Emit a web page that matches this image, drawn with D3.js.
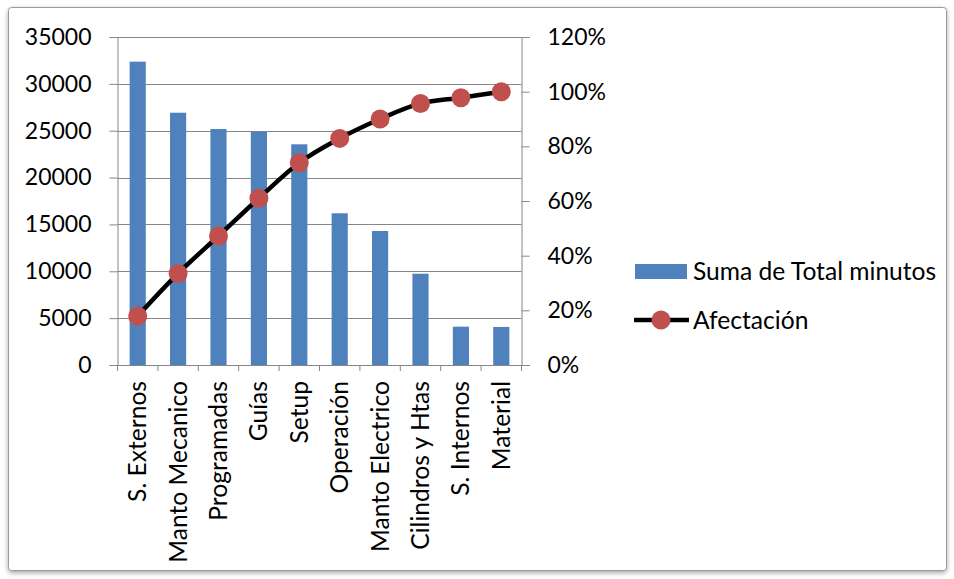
<!DOCTYPE html>
<html>
<head>
<meta charset="utf-8">
<script src="https://cdn.jsdelivr.net/npm/d3@7"></script>
<style>
  html, body { margin: 0; padding: 0; background: #fff; }
  svg { display: block; }
  text { font-family: Lato, "Open Sans", sans-serif; fill: #000; }
</style>
</head>
<body>
<svg id="chart" width="954" height="579"></svg>
<script>
// Pareto data: minutes per cause and cumulative share
const categories = ["S. Externos", "Manto Mecanico", "Programadas", "Guías", "Setup",
                    "Operación", "Manto Electrico", "Cilindros y Htas", "S. Internos", "Material"];
const minutes = [32370, 26920, 25180, 24900, 23550, 16190, 14300, 9740, 4090, 4060];
const afectacion = [0.179, 0.335, 0.472, 0.610, 0.740, 0.829, 0.900, 0.957, 0.978, 1.0];
const leftTicks = [0, 5000, 10000, 15000, 20000, 25000, 30000, 35000];
const rightTicks = [0, 0.2, 0.4, 0.6, 0.8, 1.0, 1.2];
const seriesNames = ["Suma de Total minutos", "Afectación"];

const svg = d3.select("#chart");
const plot = { left: 117.5, right: 521.5, top: 37, bottom: 365 };
const FS_NUM = 23;   // axis numbers
const FS_TXT = 24.6; // category and legend text
const gridColor = "#868686";

// Frame with soft shadow
const defs = svg.append("defs");
const f = defs.append("filter").attr("id", "shadow")
  .attr("x", "-5%").attr("y", "-5%").attr("width", "110%").attr("height", "110%");
f.append("feDropShadow").attr("dx", 0).attr("dy", 2).attr("stdDeviation", 2.5)
  .attr("flood-color", "#000").attr("flood-opacity", 0.35);
svg.append("rect")
  .attr("x", 8.5).attr("y", 7.5).attr("width", 938).attr("height", 563)
  .attr("rx", 3).attr("fill", "#fff").attr("stroke", "#9a9a9a").attr("stroke-width", 1)
  .attr("filter", "url(#shadow)");

// Scales
const x = d3.scaleBand().domain(categories)
  .range([plot.left, plot.right]).paddingInner(0.6).paddingOuter(0.3);
const yL = d3.scaleLinear().domain([0, 35000]).range([plot.bottom, plot.top]);
const yR = d3.scaleLinear().domain([0, 1.2]).range([plot.bottom, plot.top]);

// Horizontal gridlines
svg.append("g").selectAll("line").data(leftTicks.slice(1)).join("line")
  .attr("x1", plot.left).attr("x2", plot.right)
  .attr("y1", d => Math.round(yL(d)) + 0.5).attr("y2", d => Math.round(yL(d)) + 0.5)
  .attr("stroke", gridColor).attr("stroke-width", 1);

// Left axis
const gL = svg.append("g").attr("transform", `translate(${plot.left},0)`)
  .call(d3.axisLeft(yL).tickValues(leftTicks).tickFormat(d3.format("d"))
    .tickSize(8).tickPadding(18));
gL.selectAll("path, line").attr("stroke", gridColor);
gL.selectAll("text").attr("font-size", FS_NUM).attr("font-family", "Lato, sans-serif").attr("fill", "#000");

// Right axis
const gR = svg.append("g").attr("transform", `translate(${plot.right},0)`)
  .call(d3.axisRight(yR).tickValues(rightTicks).tickFormat(d3.format(".0%"))
    .tickSize(8).tickPadding(18));
gR.selectAll("path, line").attr("stroke", gridColor);
gR.selectAll("text").attr("font-size", FS_NUM).attr("font-family", "Lato, sans-serif").attr("fill", "#000");

// Bars
svg.append("g").selectAll("rect").data(minutes).join("rect")
  .attr("x", (d, i) => x(categories[i]))
  .attr("width", x.bandwidth())
  .attr("y", d => yL(d))
  .attr("height", d => plot.bottom - yL(d))
  .attr("fill", "#4F81BD");

// Bottom axis line and category boundary ticks
const step = x.step();
svg.append("line")
  .attr("x1", plot.left - 8).attr("x2", plot.right + 8)
  .attr("y1", plot.bottom + 0.5).attr("y2", plot.bottom + 0.5)
  .attr("stroke", gridColor);
svg.append("g").selectAll("line").data(d3.range(categories.length + 1)).join("line")
  .attr("x1", i => plot.left + i * step).attr("x2", i => plot.left + i * step)
  .attr("y1", plot.bottom).attr("y2", plot.bottom + 6)
  .attr("stroke", gridColor);

// Category labels (rotated)
svg.append("g").selectAll("text").data(categories).join("text")
  .attr("transform", d => `translate(${x(d) + x.bandwidth() / 2 + 8.5},${plot.bottom + 16}) rotate(-90)`)
  .attr("text-anchor", "end")
  .attr("font-size", FS_TXT)
  .text(d => d);

// Cumulative line with markers
const pts = afectacion.map((v, i) => [x(categories[i]) + x.bandwidth() / 2, yR(v)]);
svg.append("path")
  .attr("d", d3.line().curve(d3.curveCardinal.tension(0))(pts))
  .attr("fill", "none").attr("stroke", "#000").attr("stroke-width", 4.5);
svg.append("g").selectAll("circle").data(pts).join("circle")
  .attr("cx", d => d[0]).attr("cy", d => d[1]).attr("r", 9.5)
  .attr("fill", "#C0504D");

// Legend
const lg = svg.append("g");
lg.append("rect").attr("x", 635).attr("y", 264).attr("width", 52).attr("height", 15).attr("fill", "#4F81BD");
lg.append("text").attr("x", 693).attr("y", 271.5).attr("dy", "0.35em").attr("font-size", FS_TXT).text(seriesNames[0]);
lg.append("line").attr("x1", 634).attr("x2", 689).attr("y1", 320).attr("y2", 320)
  .attr("stroke", "#000").attr("stroke-width", 4.5);
lg.append("circle").attr("cx", 661).attr("cy", 320).attr("r", 9.5).attr("fill", "#C0504D");
lg.append("text").attr("x", 693).attr("y", 320).attr("dy", "0.35em").attr("font-size", FS_TXT).text(seriesNames[1]);
</script>
</body>
</html>
